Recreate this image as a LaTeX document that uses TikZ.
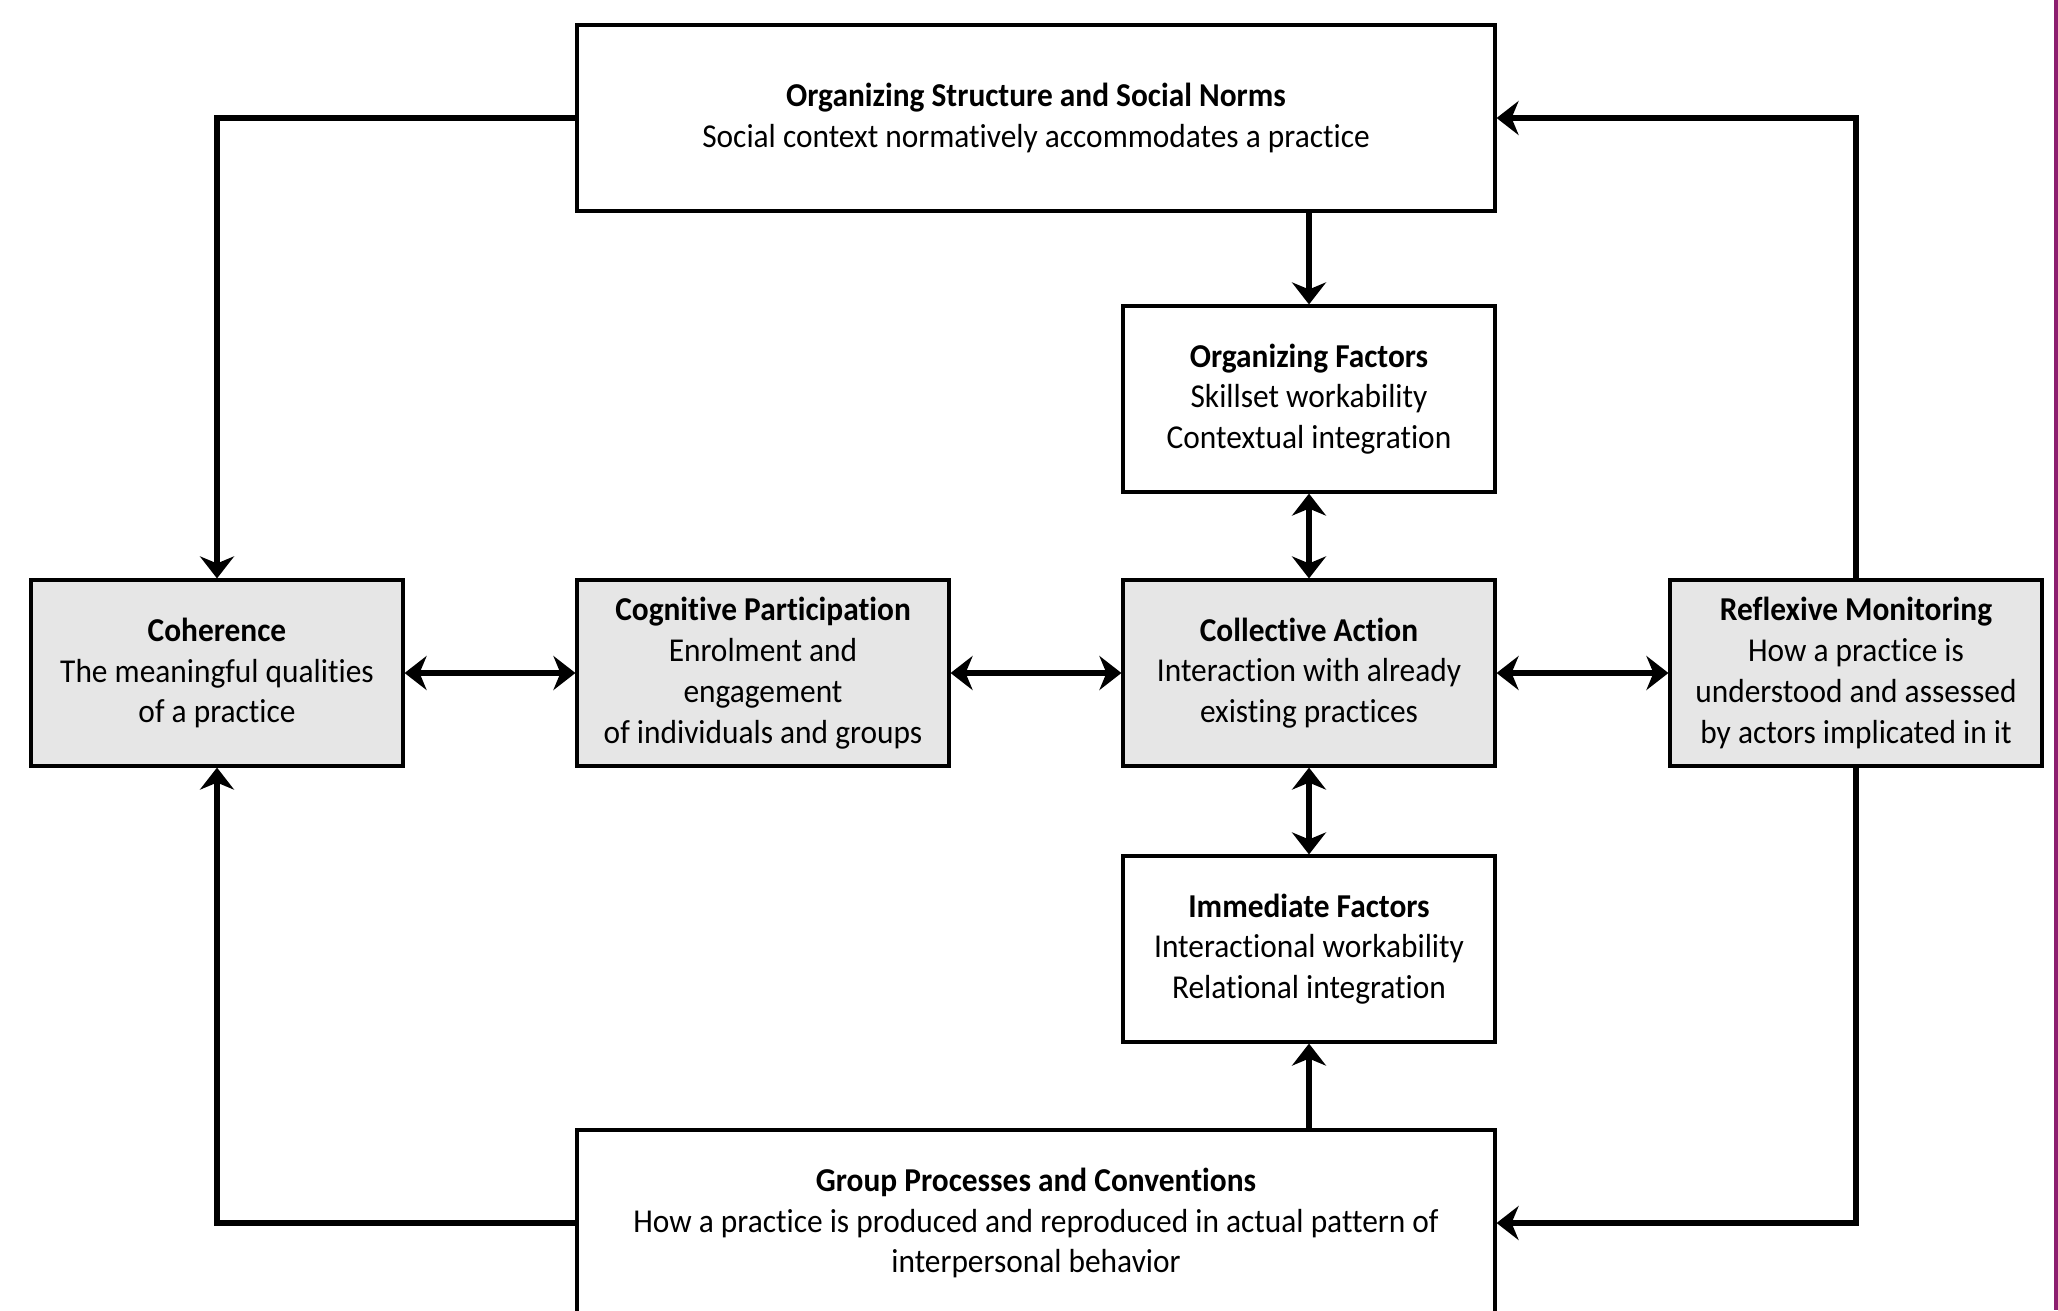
\documentclass[tikz,border=0pt]{standalone}
\usepackage{fontspec}
\setmainfont{Carlito}[FakeStretch=0.94, Ligatures=NoCommon]
\usepackage{xcolor}
\usepackage{tikz}
\usetikzlibrary{arrows.meta}

\definecolor{boxgray}{RGB}{230,230,230}
\definecolor{edgepurple}{RGB}{140,30,110}

\tikzset{
    nmbox/.style={draw, line width=0.9pt, align=center, inner sep=2pt,
        minimum height=1.86cm, font=\fontsize{9.5}{11.6}\selectfont},
    corebox/.style={nmbox, fill=boxgray, minimum width=3.72cm},
    factbox/.style={nmbox, fill=white, minimum width=3.72cm},
    widebox/.style={nmbox, fill=white, minimum width=9.18cm},
    link/.style={line width=1.6pt, -{Stealth[length=2.2mm,width=3.4mm,inset=0.7mm]}},
    dlink/.style={line width=1.6pt, {Stealth[length=2.2mm,width=3.4mm,inset=0.7mm]}-{Stealth[length=2.2mm,width=3.4mm,inset=0.7mm]}}
}

\begin{document}
\begin{tikzpicture}[x=1cm,y=-1cm]
    \useasboundingbox[fill=white] (0,0) rectangle (20.58,13.10);
    \begin{scope}
    \clip (0,0) rectangle (20.58,13.10);

    % outer boxes
    \node[widebox] (orgstruct) at (10.36,1.18) {\textbf{Organizing Structure and Social Norms}\\Social context normatively accommodates a practice};
    \node[widebox] (groupproc) at (10.36,12.23) {\textbf{Group Processes and Conventions}\\How a practice is produced and reproduced in actual pattern of\\interpersonal behavior};

    % factors
    \node[factbox] (orgfact) at (13.09,3.99) {\textbf{Organizing Factors}\\Skillset workability\\Contextual integration};
    \node[factbox] (immfact) at (13.09,9.49) {\textbf{Immediate Factors}\\Interactional workability\\Relational integration};

    % core constructs
    \node[corebox] (coherence) at (2.17,6.73) {\textbf{Coherence}\\The meaningful qualities\\of a practice};
    \node[corebox] (cognitive) at (7.63,6.73) {\textbf{Cognitive Participation}\\Enrolment and\\engagement\\of individuals and groups};
    \node[corebox] (collective) at (13.09,6.73) {\textbf{Collective Action}\\Interaction with already\\existing practices};
    \node[corebox] (reflexive) at (18.56,6.73) {\textbf{Reflexive Monitoring}\\How a practice is\\understood and assessed\\by actors implicated in it};

    % connectors
    \draw[link] (orgstruct.west) -| (coherence.north);
    \draw[link] (reflexive.north) |- (orgstruct.east);
    \draw[link] (orgfact.north |- orgstruct.south) -- (orgfact.north);
    \draw[dlink] (orgfact.south) -- (collective.north);
    \draw[dlink] (coherence.east) -- (cognitive.west);
    \draw[dlink] (cognitive.east) -- (collective.west);
    \draw[dlink] (collective.east) -- (reflexive.west);
    \draw[dlink] (collective.south) -- (immfact.north);
    \draw[link] (immfact.south |- groupproc.north) -- (immfact.south);
    \draw[link] (groupproc.west) -| (coherence.south);
    \draw[link] (reflexive.south) |- (groupproc.east);
    \end{scope}

    \draw[edgepurple, line width=1pt] (20.56,0) -- (20.56,13.10);
\end{tikzpicture}
\end{document}
